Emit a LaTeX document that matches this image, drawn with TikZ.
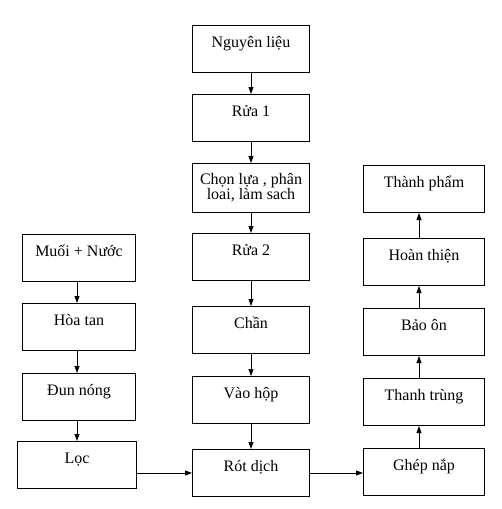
\documentclass[tikz,border=0pt]{standalone}
\usepackage{fontspec}
\setmainfont{Liberation Serif}
\newfontfamily\vnserif{Liberation Serif}
\usetikzlibrary{arrows.meta}
\begin{document}
\begin{tikzpicture}[x=1pt,y=-1pt,
  stepbox/.style={draw, line width=1pt, anchor=north west, inner sep=0pt,
    font=\vnserif\fontsize{16}{16}\selectfont, text height=22pt, text depth=25pt,
    minimum height=47pt},
  twobox/.style={draw, line width=1pt, anchor=north west, inner sep=0pt,
    font=\vnserif\fontsize{16}{15}\selectfont, align=center, minimum height=49pt},
  arr/.style={-{Triangle[length=7pt,width=5pt]}, line width=0.8pt}]
\useasboundingbox (0,0) rectangle (502,509);
% center column
\node[stepbox, minimum width=117pt] (a1) at (192,25) {Nguyên liệu};
\node[stepbox, minimum width=117pt] (a2) at (192,94) {Rửa 1};
\node[twobox, minimum width=117pt] (a3) at (192,163) {Chọn lựa , phân\\loai, làm sach};
\node[stepbox, minimum width=117pt] (a4) at (192,233) {Rửa 2};
\node[stepbox, minimum width=117pt] (a5) at (192,306) {Chần};
\node[stepbox, minimum width=117pt] (a6) at (192,376) {Vào hộp};
\node[stepbox, minimum width=117pt] (a7) at (192,449) {Rót dịch};
% left column
\node[stepbox, minimum width=113pt] (b1) at (22,234) {Muối + Nước};
\node[stepbox, minimum width=113pt] (b2) at (22,303) {Hòa tan};
\node[stepbox, minimum width=113pt] (b3) at (22,373) {Đun nóng};
\node[stepbox, minimum width=119pt] (b4) at (17,441) {Lọc};
% right column
\node[stepbox, minimum width=121pt] (c1) at (363,165) {Thành phẩm};
\node[stepbox, minimum width=121pt] (c2) at (363,238) {Hoàn thiện};
\node[stepbox, minimum width=121pt] (c3) at (363,308) {Bảo ôn};
\node[stepbox, minimum width=121pt] (c4) at (363,378) {Thanh trùng};
\node[stepbox, minimum width=121pt] (c5) at (363,448) {Ghép nắp};
% arrows
\draw[arr] (a1) -- (a2);
\draw[arr] (a2) -- (a3);
\draw[arr] (a3) -- (a4);
\draw[arr] (a4) -- (a5);
\draw[arr] (a5) -- (a6);
\draw[arr] (a6) -- (a7);
\draw[arr] ([xshift=-2pt]b1.south) -- ([xshift=-2pt]b2.north);
\draw[arr] ([xshift=-2pt]b2.south) -- ([xshift=-2pt]b3.north);
\draw[arr] ([xshift=-2pt]b3.south) -- ([xshift=-2pt]b3.south |- b4.north);
\draw[arr] (b4.east |- a7.east) -- (a7.west);
\draw[arr] (a7.east) -- (c5.west |- a7.east);
\draw[arr] ([xshift=-5pt]c5.north) -- ([xshift=-5pt]c4.south);
\draw[arr] ([xshift=-5pt]c4.north) -- ([xshift=-5pt]c3.south);
\draw[arr] ([xshift=-5pt]c3.north) -- ([xshift=-5pt]c2.south);
\draw[arr] ([xshift=-5pt]c2.north) -- ([xshift=-5pt]c1.south);
\end{tikzpicture}
\end{document}
